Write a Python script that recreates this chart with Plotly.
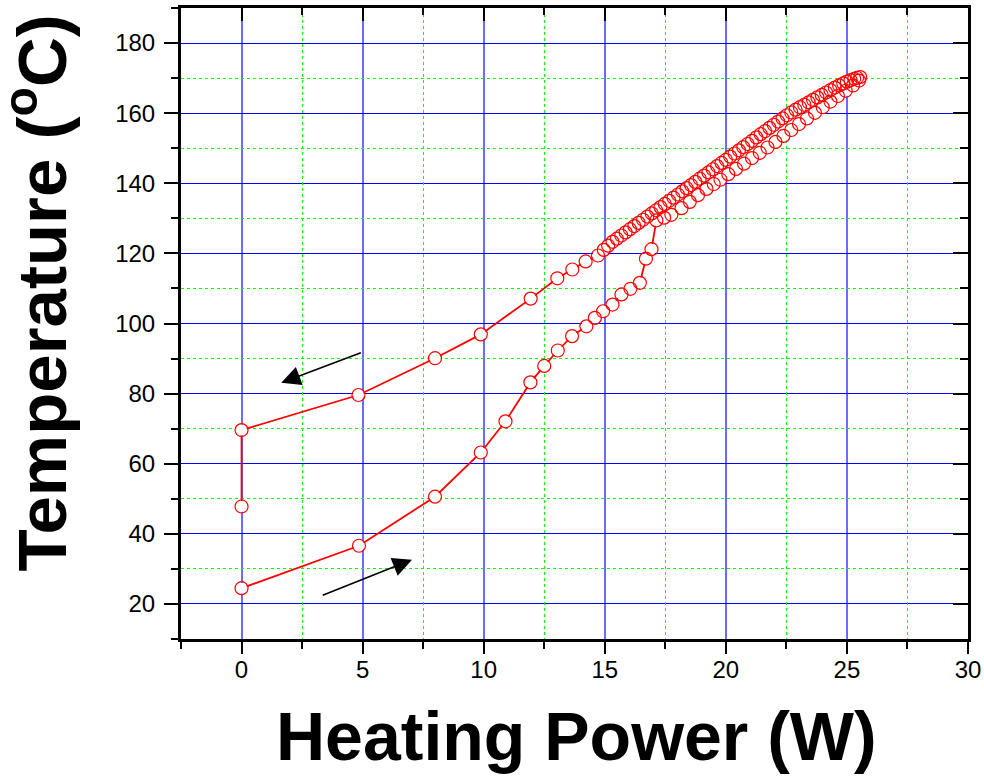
import plotly.graph_objects as go

# Heating branch (increasing power)
heat_power = [0.0, 4.85, 7.99, 9.88, 10.90, 11.93, 12.50, 13.06, 13.65, 14.24, 14.59,
              14.93, 15.32, 15.69, 16.06, 16.45, 16.70, 16.93, 17.13, 17.45, 17.75,
              18.17, 18.51, 18.85, 19.20, 19.50, 19.78, 20.10, 20.42, 20.75, 21.08,
              21.40, 21.72, 22.05, 22.38, 22.70, 23.02, 23.35, 23.68, 24.00, 24.32,
              24.63, 24.95, 25.25, 25.50]
heat_temp = [24.5, 36.6, 50.6, 63.2, 72.1, 83.2, 87.9, 92.3, 96.4, 99.2, 101.6,
             103.5, 105.4, 108.3, 109.9, 111.6, 118.5, 121.2, 129.4, 130.2, 131.0,
             132.9, 134.7, 136.6, 138.4, 139.8, 141.0, 142.6, 144.1, 145.6, 147.2,
             148.7, 150.2, 151.8, 153.5, 155.2, 156.9, 158.5, 160.1, 161.7, 163.3,
             164.9, 166.4, 167.9, 169.3]

# Cooling branch (decreasing power)
cool_power = [25.55, 25.42, 25.30, 25.15, 25.00, 24.85, 24.68, 24.50, 24.32, 24.14,
              23.96, 23.78, 23.60, 23.42, 23.24, 23.06, 22.88, 22.70, 22.52, 22.34,
              22.16, 21.98, 21.80, 21.62, 21.44, 21.26, 21.08, 20.90, 20.72, 20.54,
              20.36, 20.18, 20.00, 19.82, 19.64, 19.46, 19.28, 19.10, 18.92, 18.74,
              18.56, 18.38, 18.20, 18.02, 17.84, 17.66, 17.48, 17.30, 17.12, 16.94,
              16.76, 16.58, 16.40, 16.22, 16.04, 15.86, 15.68, 15.50, 15.32, 15.14,
              14.96, 14.72, 14.21, 13.66, 13.04, 11.94, 9.88, 7.99, 4.83, 0.0, 0.0]
cool_temp = [170.3, 170.1, 169.8, 169.4, 169.0, 168.5, 167.9, 167.3, 166.6, 165.9,
             165.2, 164.5, 163.8, 163.1, 162.4, 161.7, 161.0, 160.2, 159.4, 158.5,
             157.6, 156.7, 155.8, 154.9, 154.0, 153.1, 152.1, 151.2, 150.3, 149.4,
             148.5, 147.6, 146.7, 145.8, 144.9, 144.0, 143.1, 142.2, 141.3, 140.4,
             139.5, 138.6, 137.7, 136.8, 135.9, 135.0, 134.1, 133.2, 132.3, 131.4,
             130.5, 129.6, 128.7, 127.8, 126.9, 126.0, 125.1, 124.2, 123.3, 122.2,
             121.0, 119.4, 117.7, 115.4, 112.9, 107.1, 96.9, 90.1, 79.6, 69.6, 47.8]

# Direction arrows: (tail, head) in data units
arrow_tail_x = [4.99, 3.29]
arrow_tail_y = [91.8, 22.3]
arrow_head_x = [1.64, 7.04]
arrow_head_y = [83.1, 32.6]

x_range = [-2.5, 30]
y_range = [10, 190]
x_major, x_minor = 5, 2.5
y_major, y_minor = 20, 10

FONT = "Liberation Sans, Arial, sans-serif"
RED = "#ff0000"
GREEN = "#00ff00"

fig = go.Figure()
# connecting lines, with white masks at the points (gap around symbols)
for px_, ty_ in ((heat_power, heat_temp), (cool_power, cool_temp)):
    fig.add_trace(go.Scatter(x=px_, y=ty_, mode="lines+markers",
                             line=dict(color=RED, width=1.8),
                             marker=dict(symbol="circle", size=11, color="white",
                                         line=dict(width=0)),
                             showlegend=False, hoverinfo="skip"))
# hollow circle symbols on top
for px_, ty_ in ((heat_power, heat_temp), (cool_power, cool_temp)):
    fig.add_trace(go.Scatter(x=px_, y=ty_, mode="markers",
                             marker=dict(symbol="circle-open", size=13, color=RED,
                                         line=dict(color=RED, width=1.2)),
                             showlegend=False, hoverinfo="x+y"))
# invisible anchors for the mirrored (inside-tick) axes and the minor-grid axes
for xa, ya in (("x2", "y2"), ("x3", "y3")):
    fig.add_trace(go.Scatter(x=heat_power[:1], y=heat_temp[:1], xaxis=xa, yaxis=ya,
                             mode="markers", marker=dict(opacity=0), showlegend=False,
                             hoverinfo="skip"))

for tx, ty, hx, hy in zip(arrow_tail_x, arrow_tail_y, arrow_head_x, arrow_head_y):
    fig.add_annotation(x=hx, y=hy, ax=tx, ay=ty, xref="x", yref="y", axref="x", ayref="y",
                       showarrow=True, arrowhead=2, arrowsize=2.4, arrowwidth=1.6,
                       arrowcolor="black", text="")

tick_common = dict(tickcolor="black", tickwidth=2, zeroline=False, automargin=False)

fig.update_layout(
    width=984, height=777,
    margin=dict(l=181, r=16, t=8, b=138, autoexpand=False),
    plot_bgcolor="white", paper_bgcolor="white",
    font=dict(family=FONT, color="black"),
    xaxis=dict(range=x_range, tickmode="linear", tick0=0, dtick=x_major,
               ticks="outside", ticklen=12, showline=True, linewidth=3,
               linecolor="black", mirror=True, showgrid=True, gridcolor="#6b6bff",
               gridwidth=2, ticklabelstandoff=-5, tickfont=dict(size=24, family=FONT),
               minor=dict(dtick=x_minor, tick0=0, ticks="outside", ticklen=7,
                          tickwidth=2, tickcolor="black", showgrid=False),
               **tick_common),
    yaxis=dict(range=y_range, tickmode="linear", tick0=0, dtick=y_major,
               ticks="outside", ticklen=14, showline=True, linewidth=3,
               linecolor="black", mirror=True, showgrid=True, gridcolor="#0000ff",
               gridwidth=1, ticklabelstandoff=4, tickfont=dict(size=24, family=FONT),
               minor=dict(dtick=y_minor, tick0=0, ticks="outside", ticklen=7,
                          tickwidth=2, tickcolor="black", showgrid=False),
               **tick_common),
    xaxis2=dict(range=x_range, overlaying="x", side="top", anchor="y",
                tickmode="linear", tick0=0, dtick=x_major, ticks="inside", ticklen=13,
                showticklabels=False, showgrid=False, showline=False,
                minor=dict(dtick=x_minor, tick0=0, ticks="inside", ticklen=7,
                           tickwidth=2, tickcolor="black", showgrid=False),
                **tick_common),
    yaxis2=dict(range=y_range, overlaying="y", side="right", anchor="x",
                tickmode="linear", tick0=0, dtick=y_major, ticks="inside", ticklen=15,
                showticklabels=False, showgrid=False, showline=False,
                minor=dict(dtick=y_minor, tick0=0, ticks="inside", ticklen=8,
                           tickwidth=2, tickcolor="black", showgrid=False),
                **tick_common),
    # axes that only carry the green dotted minor grid
    xaxis3=dict(range=x_range, overlaying="x", anchor="y", tickmode="linear",
                tick0=x_minor, dtick=x_major, ticks="", showticklabels=False,
                showline=False, showgrid=True, gridcolor=GREEN, gridwidth=1,
                griddash="dot", zeroline=False, automargin=False, layer="below traces"),
    yaxis3=dict(range=y_range, overlaying="y", anchor="x", tickmode="linear",
                tick0=y_minor, dtick=y_major, ticks="", showticklabels=False,
                showline=False, showgrid=True, gridcolor=GREEN, gridwidth=1,
                griddash="dot", zeroline=False, automargin=False, layer="below traces"),
)

fig.add_annotation(text="<b>Heating Power (W)</b>", xref="paper", yref="paper",
                   x=0.5025, y=-0.1537, xanchor="center", yanchor="middle",
                   showarrow=False, font=dict(size=68, family=FONT, color="black"))
fig.add_annotation(text="<b>Temperature (<sup>o</sup>C)</b>", xref="paper", yref="paper",
                   x=-0.183, y=0.549, xanchor="center", yanchor="middle",
                   showarrow=False, textangle=-90,
                   font=dict(size=69, family=FONT, color="black"))

fig.write_html("out.html", config={"displayModeBar": False},
               post_script="document.body.style.margin='0px';")
